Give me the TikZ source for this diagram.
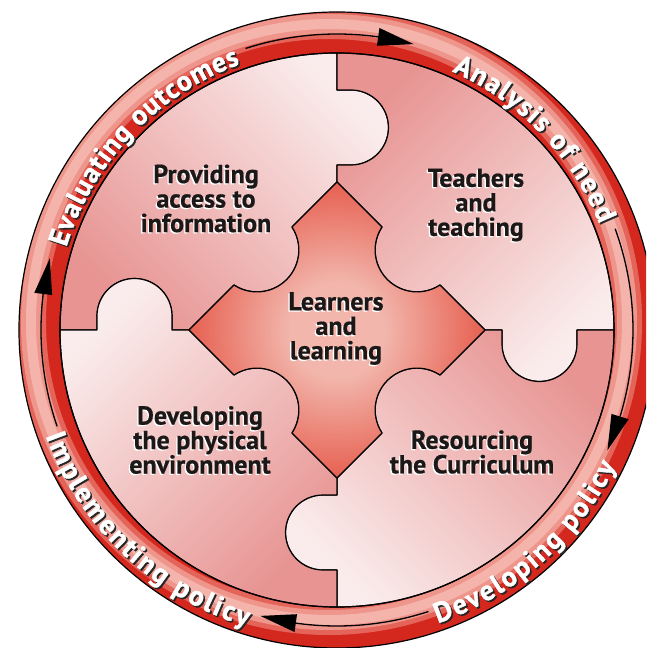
\documentclass[tikz,border=0pt]{standalone}
\usepackage{fontspec}
\setmainfont{PT Sans}[BoldFeatures={FakeBold=0.6}]
\newfontfamily\ringfont{PT Sans}[BoldFeatures={FakeBold=1.4}]
\usetikzlibrary{decorations.text}
\definecolor{ringred}{RGB}{212,40,30}
\definecolor{ringmid}{RGB}{228,100,90}
\definecolor{ringlight}{RGB}{238,150,140}
\definecolor{ringlighter}{RGB}{244,180,172}
\definecolor{piecedark}{RGB}{231,148,146}
\definecolor{piecelight}{RGB}{250,236,236}
\definecolor{starin}{RGB}{242,182,172}
\definecolor{starout}{RGB}{224,50,32}
\definecolor{inkc}{RGB}{28,24,24}
\pgfdeclareradialshading{starshade}{\pgfpoint{0bp}{0bp}}{color(0bp)=(starin); color(8bp)=(starin); color(34bp)=(starout); color(50bp)=(starout)}
\newcommand\ringW{\fontsize{28}{28}\selectfont\ringfont\bfseries\color{white}}
\newcommand\ringK{\fontsize{28}{28}\selectfont\ringfont\bfseries\color{black!85}}
\tikzset{
  outline/.style={draw=black, line width=1.2pt, line join=round},
  ptxt/.style={font=\fontsize{26}{24.5}\selectfont\bfseries, text=inkc, align=center, inner sep=0pt},
  ptxtshadow/.style={ptxt, text=white},
  shaft/.style={draw=black, line width=1.3pt},
  headfill/.style={fill=black},
}
\begin{document}
\begin{tikzpicture}[x=1pt,y=1pt]
\useasboundingbox (-337,-318) rectangle (309,330);
\clip (-337,-318) rectangle (309,330);
% ring
\begin{scope}
  \clip (0,0) circle (318);
  \fill[ringred] (0,0) circle (318);
  \draw[ringmid, line width=30pt] (-8,8) circle (298);
  \draw[ringlight, line width=20pt] (-8,8) circle (298);
  \draw[ringlighter, line width=10pt] (-8,8) circle (298);
\end{scope}
% pieces
\foreach \rot/\ang in {0/-45, -90/-135, -180/135, -270/45} {
  \begin{scope}[rotate=\rot]
    \shadedraw[outline, top color=piecelight, bottom color=piecedark, shading angle=\ang]
      (0,148) -- (0,165) -- (14,165) arc[start angle=-90,end angle=90,radius=37.5] -- (0,240) -- (0,277)
      arc[start angle=90,end angle=180,radius=277] -- (-240,0) -- (-240,14)
      arc[start angle=180,end angle=0,radius=37.5] -- (-165,0) -- (-148,0) -- (-103,45)
      arc[start angle=236.7,end angle=393.3,radius=41.9] -- cycle;
  \end{scope}
}
% star
\shadedraw[outline, shading=starshade]
  (0,148) -- (-45,103) arc[start angle=33.3,end angle=-123.3,radius=41.9] -- (-148,0)
  -- (-103,-45) arc[start angle=123.3,end angle=-33.3,radius=41.9] -- (0,-148)
  -- (45,-103) arc[start angle=213.3,end angle=56.7,radius=41.9] -- (148,0)
  -- (103,45) arc[start angle=303.3,end angle=146.7,radius=41.9] -- cycle;
% circles
\draw[outline] (0,0) circle (318);
\draw[outline] (0,0) circle (277);
% arrows
\draw[shaft] (108:296) arc[start angle=108,end angle=82,radius=296];
\fill[headfill] (82:305) -- (75:296) -- (82:287) -- cycle;
\draw[shaft] (20:296) arc[start angle=20,end angle=-17,radius=296];
\fill[headfill] (-17:305) -- (-24:296) -- (-17:287) -- cycle;
\draw[shaft] (-72:296) arc[start angle=-72,end angle=-98,radius=296];
\fill[headfill] (-98:305) -- (-105:296) -- (-98:287) -- cycle;
\draw[shaft] (199:296) arc[start angle=199,end angle=173,radius=296];
\fill[headfill] (173:305) -- (166:296) -- (173:287) -- cycle;
% ring texts (shadow then white)
\path[decorate, decoration={text along path, text align=fit to path, text={|\ringK|Evaluating outcomes}}]
  ([shift={(1.6,-1.6)}]163:283) arc[start angle=163,end angle=110,radius=283];
\path[decorate, decoration={text along path, text align=fit to path, text={|\ringW|Evaluating outcomes}}]
  (163:283) arc[start angle=163,end angle=110,radius=283];
\path[decorate, decoration={text along path, text align=fit to path, text={|\ringK|Analysis of need}}]
  ([shift={(1.6,-1.6)}]66:283) arc[start angle=66,end angle=22,radius=283];
\path[decorate, decoration={text along path, text align=fit to path, text={|\ringW|Analysis of need}}]
  (66:283) arc[start angle=66,end angle=22,radius=283];
\path[decorate, decoration={text along path, text align=fit to path, text={|\ringK|Developing policy}}]
  ([shift={(1.6,-1.6)}]-71:310) arc[start angle=-71,end angle=-26,radius=310];
\path[decorate, decoration={text along path, text align=fit to path, text={|\ringW|Developing policy}}]
  (-71:310) arc[start angle=-71,end angle=-26,radius=310];
\path[decorate, decoration={text along path, text align=fit to path, text={|\ringK|Implementing policy}}]
  ([shift={(1.6,-1.6)}]200:310) arc[start angle=200,end angle=253,radius=310];
\path[decorate, decoration={text along path, text align=fit to path, text={|\ringW|Implementing policy}}]
  (200:310) arc[start angle=200,end angle=253,radius=310];
% piece texts
\node[ptxtshadow] (provS) at (-132.3,130.2) {Providing\\access to\\information};
\node[ptxt] (prov) at (-131,131.5) {Providing\\access to\\information};
\node[ptxtshadow] (teachS) at (137.7,123.7) {Teachers\\and\\teaching};
\node[ptxt] (teach) at (139,125) {Teachers\\and\\teaching};
\node[ptxtshadow] (learnS) at (-2.3,0.2) {Learners\\and\\learning};
\node[ptxt] (learn) at (-1,1.5) {Learners\\and\\learning};
\node[ptxtshadow] (devS) at (-138.3,-111.3) {Developing\\the physical\\environment};
\node[ptxt] (dev) at (-137,-110) {Developing\\the physical\\environment};
\node[ptxtshadow] (resS) at (133.7,-123.3) {Resourcing\\the Curriculum};
\node[ptxt] (res) at (135,-122) {Resourcing\\the Curriculum};
\end{tikzpicture}
\end{document}
